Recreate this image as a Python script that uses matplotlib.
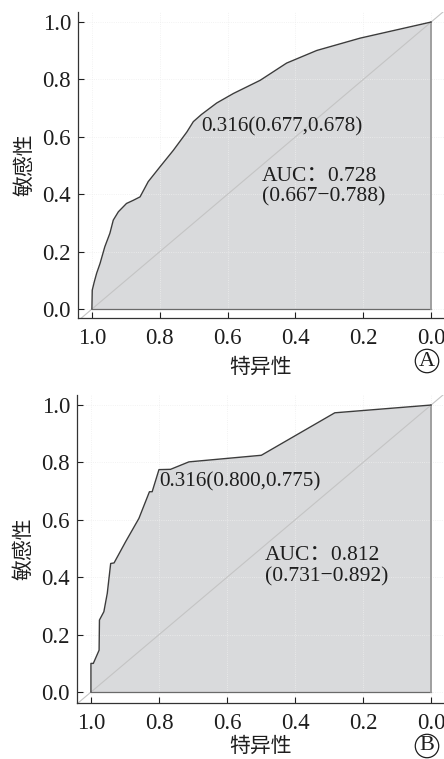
#!/usr/bin/env python3
"""Two stacked ROC curves (panels A and B) with AUC and cut-off notes."""

import matplotlib.pyplot as plt

# ROC curve, panel A: specificity (x, reversed axis) vs sensitivity
SPEC_A = [1.0, 0.999, 0.993, 0.986, 0.976, 0.962, 0.947, 0.937, 0.922, 0.898,
          0.878, 0.858, 0.834, 0.799, 0.760, 0.720, 0.701, 0.677, 0.632,
          0.583, 0.504, 0.426, 0.337, 0.209, 0.0]
SENS_A = [0.0, 0.066, 0.095, 0.125, 0.159, 0.217, 0.264, 0.310, 0.339, 0.368,
          0.379, 0.391, 0.444, 0.496, 0.553, 0.617, 0.653, 0.678, 0.718,
          0.751, 0.797, 0.857, 0.901, 0.944, 1.0]

# ROC curve, panel B
SPEC_B = [1.0, 1.0, 0.993, 0.976, 0.975, 0.962, 0.952, 0.942, 0.932, 0.898,
          0.859, 0.828, 0.820, 0.800, 0.766, 0.712, 0.499, 0.283, 0.0]
SENS_B = [0.0, 0.100, 0.100, 0.146, 0.251, 0.280, 0.344, 0.448, 0.450, 0.524,
          0.605, 0.698, 0.698, 0.775, 0.776, 0.802, 0.825, 0.973, 1.0]

CUTOFF_A = (0.677, 0.678)
CUTOFF_B = (0.800, 0.775)
CUTOFF_LABELS = ["0.316(0.677,0.678)", "0.316(0.800,0.775)"]
AUC_LABELS = ["AUC：0.728\n(0.667−0.788)", "AUC：0.812\n(0.731−0.892)"]
PANEL_LABELS = ["A", "B"]

TICKS = [1.0, 0.8, 0.6, 0.4, 0.2, 0.0]
TICK_LABELS = ["1.0", "0.8", "0.6", "0.4", "0.2", "0.0"]
X_LABEL = "特异性"
Y_LABEL = "敏感性"

FILL_COLOR = "#d9dadc"
CURVE_COLOR = "#3c3c3c"
DIAG_COLOR = "#c4c4c4"
TEXT_COLOR = "#1e1e1e"
FONTS = ["Liberation Serif", "Noto Sans CJK SC", "DejaVu Sans"]
CJK_FONTS = ["Noto Sans CJK SC", "DejaVu Sans"]

W, H = 444, 759


def px_rect(left, top, right, bottom):
    return [left / W, 1 - bottom / H, (right - left) / W, (bottom - top) / H]


def draw_panel(ax, spec, sens, cutoff, cut_label, auc_label, auc_xy, ylim,
               xlabelpad):
    ax.set_xlim(1.041, -0.038)
    ax.set_ylim(*ylim)

    ax.fill_between(spec, sens, 0, color=FILL_COLOR, linewidth=0, zorder=1)
    ax.plot(spec, sens, color=CURVE_COLOR, linewidth=1.0, zorder=3)
    ax.plot([1.0, 0.0], [0.0, 0.0], color="#6a6a6a", linewidth=0.9, zorder=2)
    ax.plot([0.0, 0.0], [0.0, 1.0], color="#9a9a9a", linewidth=1.3, zorder=2)
    ax.axline((1.0, 0.0), (0.0, 1.0), color=DIAG_COLOR, linewidth=0.8, zorder=2)

    ax.set_xticks(TICKS)
    ax.set_xticklabels(TICK_LABELS)
    ax.set_yticks(TICKS[::-1])
    ax.set_yticklabels(TICK_LABELS[::-1])
    ax.tick_params(direction="in", length=4, width=0.8, labelsize=16.5,
                   colors=TEXT_COLOR)
    ax.tick_params(axis="x", pad=7)
    ax.tick_params(axis="y", pad=5)
    for lab in ax.get_xticklabels() + ax.get_yticklabels():
        lab.set_family(FONTS)

    ax.grid(True, color="#eeeeee", linewidth=0.6, linestyle=":", zorder=0)
    for side in ("top", "right"):
        ax.spines[side].set_visible(False)
    for side in ("left", "bottom"):
        ax.spines[side].set_linewidth(0.9)
        ax.spines[side].set_color("#333333")

    ax.text(cutoff[0], cutoff[1] - 0.008, cut_label, ha="left", va="top",
            fontsize=15.2, family=FONTS, color=TEXT_COLOR, zorder=4)
    ax.text(auc_xy[0], auc_xy[1], auc_label, ha="left", va="center",
            fontsize=15.5, family=FONTS, color=TEXT_COLOR, linespacing=1.12,
            zorder=4)

    ax.set_xlabel(X_LABEL, family=CJK_FONTS, fontsize=15, color=TEXT_COLOR,
                  labelpad=xlabelpad)
    ax.set_ylabel(Y_LABEL, family=CJK_FONTS, fontsize=15, color=TEXT_COLOR,
                  labelpad=5)


def main():
    fig = plt.figure(figsize=(W / 100, H / 100), dpi=100)
    fig.patch.set_facecolor("white")

    ax_a = fig.add_axes(px_rect(78, 12, 444, 318))
    draw_panel(ax_a, SPEC_A, SENS_A, CUTOFF_A, CUTOFF_LABELS[0],
               AUC_LABELS[0], (0.499, 0.427), (-0.031, 1.035), 5)

    ax_b = fig.add_axes(px_rect(77, 395, 444, 703))
    draw_panel(ax_b, SPEC_B, SENS_B, CUTOFF_B, CUTOFF_LABELS[1],
               AUC_LABELS[1], (0.488, 0.439), (-0.038, 1.035), 1)

    for label, (cx, cy) in zip(PANEL_LABELS, [(427, 361), (427, 746)]):
        fig.text(cx / W, 1 - cy / H, label, ha="center", va="center",
                 fontsize=16, family=FONTS, color=TEXT_COLOR,
                 bbox=dict(boxstyle="circle,pad=0.1", facecolor="white",
                           edgecolor=TEXT_COLOR, linewidth=0.9))

    fig.savefig("out.png", dpi=100, facecolor=fig.get_facecolor())


if __name__ == "__main__":
    main()
